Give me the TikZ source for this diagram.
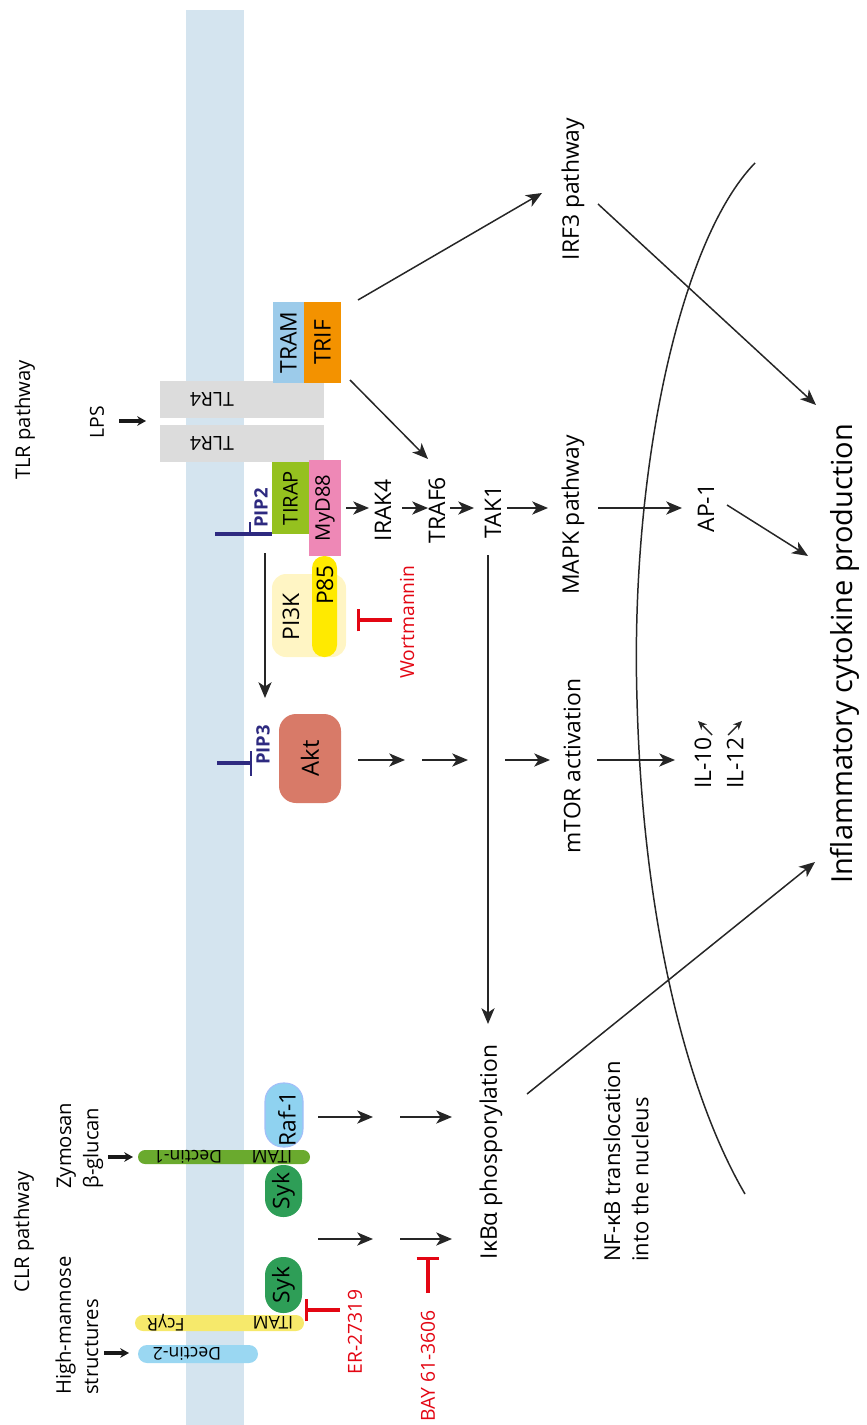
\documentclass[tikz,border=0pt]{standalone}
\usepackage{fontspec}
\setmainfont{Open Sans}
\usepackage{tikz}
\usetikzlibrary{positioning,arrows.meta}
\newcommand{\pu}{0.02cm}
\definecolor{membrane}{HTML}{D4E4EF}
\definecolor{tlrgrey}{HTML}{DCDCDC}
\definecolor{tramblue}{HTML}{9CCBEA}
\definecolor{triforange}{HTML}{F39200}
\definecolor{tirapgreen}{HTML}{95C11F}
\definecolor{myd88pink}{HTML}{EE88B6}
\definecolor{pikyellow}{HTML}{FFF5C4}
\definecolor{pyellow}{HTML}{FFEA00}
\definecolor{aktred}{HTML}{D87A68}
\definecolor{dectgreen}{HTML}{6AAA2E}
\definecolor{rafblue}{HTML}{8FD2F0}
\definecolor{sykgreen}{HTML}{2E9E57}
\definecolor{fcyellow}{HTML}{F6E96B}
\definecolor{pipnavy}{HTML}{2E2A80}
\definecolor{inhib}{HTML}{E30613}
\tikzset{
  arr/.style={draw=black!85, line width=0.85pt, -{Stealth[length=9pt,width=7.5pt,inset=2.5pt]}},
  lig/.style={draw=black!90, line width=1.8pt, -{Stealth[length=5pt,width=5.5pt]}},
  tiny/.style={draw=black!85, line width=0.8pt, -{Stealth[length=5pt,width=4.5pt]}},
  block/.style={draw=inhib, line width=1.8pt, -{Bar[width=13pt]}},
  lbl/.style={rotate=90, inner sep=0pt, font=\fontsize{13}{16}\selectfont},
  sml/.style={rotate=90, inner sep=0pt, font=\fontsize{11.5}{15.5}\selectfont},
  drug/.style={sml, text=inhib, font=\fontsize{11}{13}\selectfont},
  pip/.style={rotate=90, inner sep=0pt, text=pipnavy, font=\fontsize{10.5}{12}\selectfont\bfseries},
  barlbl/.style={rotate=180, inner sep=0pt, font=\fontsize{10}{12}\selectfont},
  prot/.style={rotate=90, inner sep=0pt, font=\fontsize{13}{15}\selectfont},
  slab/.style={rectangle, inner sep=0pt}
}

\begin{document}
\begin{tikzpicture}[x=\pu, y=-\pu]
  \useasboundingbox (0,0) rectangle (866,1425);

  % membrane
  \fill[membrane] (186,10) rectangle (244,1425);

  % --- TLR side ---
  \node[sml] (tlrpath) at (25,420) {TLR pathway};
  \node[sml, font=\fontsize{11}{13}\selectfont] (lps) at (97,422) {LPS};
  \coordinate (lpstip) at (146,421);
  \draw[lig] (119,421) -- (lpstip);

  \node[slab, fill=tlrgrey, minimum width=164*\pu, minimum height=37*\pu] (tlr4a) at (242,399.5) {};
  \node[slab, fill=tlrgrey, minimum width=164*\pu, minimum height=37*\pu] (tlr4b) at (242,443.5) {};
  \node[barlbl, font=\fontsize{11}{13}\selectfont] at (212,399.5) {TLR4};
  \node[barlbl, font=\fontsize{11}{13}\selectfont] at (212,443.5) {TLR4};

  \node[prot, fill=tramblue, minimum width=81*\pu, minimum height=31*\pu] (tram) at (288.5,342.5) {TRAM};
  \node[prot, fill=triforange, minimum width=81*\pu, minimum height=37*\pu] (trif) at (322.5,342.5) {TRIF};
  \node[prot, fill=tirapgreen, minimum width=72*\pu, minimum height=37*\pu,
        font=\fontsize{11.5}{13}\selectfont] (tirap) at (290.5,498) {TIRAP};
  \node[prot, fill=myd88pink, minimum width=96*\pu, minimum height=32*\pu,
        font=\fontsize{11.5}{13}\selectfont] (myd88) at (325,508) {MyD88};

  % PIP2 / PIP3 lipids
  \draw[pipnavy, line width=2.2pt] (215,534) -- (272,534);
  \draw[pipnavy, line width=1.2pt] (250,535) -- (250,522);
  \node[pip] (pip2) at (261,508) {PIP2};
  \draw[pipnavy, line width=2.2pt] (217,763) -- (251,763);
  \draw[pipnavy, line width=1.2pt] (251,751) -- (251,776);
  \node[pip] (pip3) at (263,745) {PIP3};

  % PI3K with p85
  \node[slab, fill=pikyellow, rounded corners=14*\pu, minimum width=74*\pu, minimum height=83*\pu] (pi3k) at (309,615.5) {};
  \node[slab, fill=pyellow, rounded corners=12*\pu, minimum width=25*\pu, minimum height=101*\pu] (p85) at (324.5,606.5) {};
  \node[prot] at (291,617) {PI3K};
  \node[prot] at (325,585) {P85};
  \draw[block] (392,620) -- (357,620);
  \node[drug] (wort) at (407,622) {Wortmannin};
  \draw[arr] (265,553) -- (265,698);

  \node[prot, fill=aktred, rounded corners=17*\pu, minimum width=89*\pu, minimum height=62*\pu,
        font=\fontsize{13.5}{15}\selectfont] (akt) at (310,758.5) {Akt};

  % signalling cascade
  \node[lbl] (irak4) at (383,510) {IRAK4};
  \node[lbl] (traf6) at (437,510) {TRAF6};
  \node[lbl] (tak1) at (493,512) {TAK1};
  \node[lbl] (mapk) at (573,515) {MAPK pathway};
  \node[lbl] (ap1) at (706,508) {AP-1};
  \node[lbl] (irf3) at (573,189) {IRF3 pathway};
  \node[lbl] (mtor) at (572,766) {mTOR activation};
  \node[lbl] (il10) at (703,763) {IL-10};
  \node[lbl] (il12) at (735,763) {IL-12};
  \node[lbl] (ikba) at (491,1152) {IκBα phosporylation};
  \node[lbl, anchor=west, align=left, font=\fontsize{12.5}{16}\selectfont] (nfkb) at (626,1262)
    {NF-κB translocation\\into the nucleus};
  \node[rotate=90, inner sep=0pt, anchor=base, font=\fontsize{16.5}{19}\selectfont] (infl) at (852,654)
    {Inflammatory cytokine production};

  \draw[arr] (358,300) -- (542,193);
  \draw[arr] (350,380) -- (428,459);
  \draw[arr] (346,508) -- (369,508);
  \draw[arr] (402,508) -- (428,508);
  \draw[arr] (450,508) -- (474,508);
  \draw[arr] (507,508) -- (548,508);
  \draw[arr] (598,508) -- (682,508);
  \draw[arr] (727,505) -- (808,556);
  \draw[arr] (598,204) -- (816,405);
  \draw[arr] (488,555) -- (488,1024);

  \draw[arr] (358,760) -- (405,760);
  \draw[arr] (422,760) -- (468,760);
  \draw[arr] (505,760) -- (550,760);
  \draw[arr] (597,760) -- (675,760);
  \draw[tiny] (712,735) -- (698,721);
  \draw[tiny] (728,735) -- (742,721);

  \draw[arr] (527,1094) -- (815,862);

  % nuclear envelope
  \draw[black!85, line width=0.85pt] (755,163) .. controls (680,240) and (630,470) .. (637,700)
    .. controls (643,930) and (690,1100) .. (745,1194);

  % --- CLR side ---
  \node[sml] (clrpath) at (24,1232) {CLR pathway};
  \node[sml, anchor=west, align=left] (zym) at (80,1189) {Zymosan\\β-glucan};
  \node[sml, anchor=west, align=left] (hman) at (77,1395) {High-mannose\\structures};
  \draw[lig] (108,1157) -- (133,1157);
  \draw[lig] (104,1353) -- (129,1353);

  \node[slab, fill=dectgreen, rounded corners=7*\pu, minimum width=172*\pu, minimum height=14*\pu] (dect1) at (224,1157) {};
  \node[barlbl] at (188,1157) {Dectin-1};
  \node[barlbl] at (272,1157) {ITAM};
  \node[slab, fill=fcyellow, rounded corners=8*\pu, minimum width=169*\pu, minimum height=16*\pu] (fcgr) at (219.5,1323) {};
  \node[barlbl] at (166,1323) {FcγR};
  \node[barlbl] at (273,1323) {ITAM};
  \node[slab, fill=rafblue!90, rounded corners=9*\pu, minimum width=120*\pu, minimum height=18*\pu] (dect2) at (198,1354) {};
  \node[barlbl] at (187,1354) {Dectin-2};

  \node[prot, fill=rafblue, draw=rafblue!70!blue!60, line width=0.6pt, rounded corners=18*\pu,
        minimum width=64*\pu, minimum height=38*\pu] (raf1) at (284,1115) {};
  \node[prot] at (287,1119) {Raf-1};
  \node[prot, fill=sykgreen, rounded corners=18*\pu, minimum width=52*\pu, minimum height=37*\pu] (syk1) at (283.5,1191) {Syk};
  \node[prot, fill=sykgreen, rounded corners=18*\pu, minimum width=56*\pu, minimum height=37*\pu] (syk2) at (283.5,1285) {Syk};

  \draw[block] (340,1310) -- (305,1310);
  \node[drug] (er) at (355,1332) {ER-27319};
  \draw[block] (428,1293) -- (428,1257);
  \node[drug] (bay) at (428,1366) {BAY 61-3606};

  \draw[arr] (318,1117) -- (373,1117);
  \draw[arr] (400,1117) -- (452,1117);
  \draw[arr] (318,1239) -- (373,1239);
  \draw[arr] (400,1239) -- (452,1239);
\end{tikzpicture}
\end{document}
